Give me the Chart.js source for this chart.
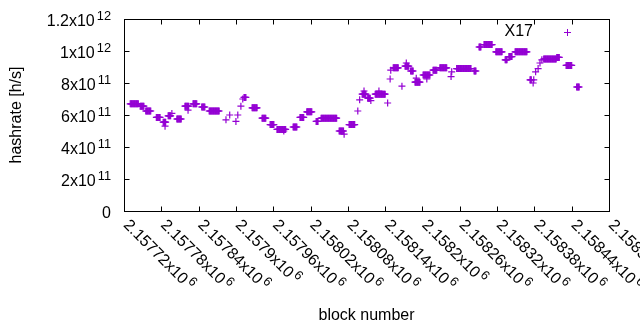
<!DOCTYPE html>
<html>
<head>
<meta charset="utf-8">
<script src="https://cdn.jsdelivr.net/npm/chart.js@4/dist/chart.umd.min.js"></script>
<style>
  html, body { margin: 0; padding: 0; background: #fff; }
  canvas { display: block; }
</style>
</head>
<body>
<canvas id="hashChart" width="640" height="330" style="width:640px;height:330px"></canvas>
<script>
const seriesName = "X17";
// runs of consecutive blocks sharing one hashrate estimate
const blockFrom = [2157730, 2157746, 2157755, 2157772, 2157783, 2157786, 2157791, 2157797, 2157805, 2157818,
  2157823, 2157831, 2157845, 2157857, 2157884, 2157890, 2157900, 2157903, 2157908, 2157911,
  2157913, 2157926, 2157942, 2157955, 2157966, 2157977, 2157992, 2158003, 2158014, 2158029,
  2158037, 2158066, 2158074, 2158082, 2158096, 2158099, 2158103, 2158106, 2158112, 2158117,
  2158124, 2158130, 2158144, 2158148, 2158149, 2158153, 2158167, 2158172, 2158174, 2158181,
  2158188, 2158190, 2158201, 2158207, 2158217, 2158228, 2158246, 2158247, 2158255, 2158283,
  2158291, 2158299, 2158318, 2158333, 2158339, 2158349, 2158373, 2158378, 2158379, 2158382,
  2158386, 2158389, 2158392, 2158395, 2158416, 2158431, 2158448];
const blockTo = [2157743, 2157752, 2157763, 2157778, 2157787, 2157786, 2157795, 2157797, 2157812, 2157824,
  2157823, 2157837, 2157850, 2157873, 2157884, 2157890, 2157900, 2157903, 2157908, 2157911,
  2157916, 2157934, 2157948, 2157961, 2157980, 2157977, 2157998, 2158009, 2158022, 2158032,
  2158062, 2158073, 2158074, 2158091, 2158096, 2158099, 2158109, 2158106, 2158116, 2158117,
  2158140, 2158130, 2158144, 2158148, 2158149, 2158161, 2158167, 2158178, 2158174, 2158185,
  2158196, 2158190, 2158212, 2158207, 2158223, 2158239, 2158246, 2158247, 2158278, 2158286,
  2158294, 2158312, 2158328, 2158336, 2158344, 2158368, 2158375, 2158378, 2158379, 2158382,
  2158386, 2158389, 2158392, 2158415, 2158420, 2158440, 2158452];
const hashrate = [6.7e11, 6.55e11, 6.25e11, 5.85e11, 5.55e11, 5.3e11, 5.95e11, 6.1e11, 5.75e11, 6.55e11,
  6.3e11, 6.7e11, 6.5e11, 6.25e11, 5.7e11, 6.0e11, 5.6e11, 6.0e11, 6.55e11, 7.0e11,
  7.1e11, 6.45e11, 5.8e11, 5.4e11, 5.1e11, 5.0e11, 5.25e11, 5.85e11, 6.2e11, 5.6e11,
  5.8e11, 5.0e11, 4.8e11, 5.4e11, 6.25e11, 6.95e11, 7.3e11, 7.5e11, 7.05e11, 6.9e11,
  7.3e11, 7.5e11, 6.75e11, 8.25e11, 8.8e11, 8.95e11, 7.8e11, 9.05e11, 9.25e11, 8.75e11,
  8.05e11, 8.3e11, 8.5e11, 8.25e11, 8.8e11, 8.95e11, 8.4e11, 8.7e11, 8.9e11, 8.75e11,
  10.25e11, 10.4e11, 9.95e11, 9.45e11, 9.65e11, 9.95e11, 8.2e11, 8.0e11, 8.2e11, 8.7e11,
  8.9e11, 9.25e11, 9.45e11, 9.5e11, 9.6e11, 9.1e11, 7.75e11];
const xTicks = [2157720, 2157780, 2157840, 2157900, 2157960, 2158020, 2158080,
  2158140, 2158200, 2158260, 2158320, 2158380, 2158440, 2158500];
const yTicks = [0, 2e11, 4e11, 6e11, 8e11, 1e12, 1.2e12];

const points = [];
blockFrom.forEach((b0, i) => {
  for (let b = b0; b <= blockTo[i]; b++) points.push({ x: b, y: hashrate[i] });
});

const FONT = '"Liberation Sans", Arial, sans-serif';
const SIZE = 16;
const purple = "#9400D3";

// "m x10^e" with gnuplot style superscript
function sciParts(v) {
  if (v === 0) return ["0", ""];
  const e = Math.floor(Math.log10(v) + 1e-9);
  const m = parseFloat((v / Math.pow(10, e)).toFixed(5));
  return [m + "x10", String(e)];
}

function drawSci(ctx, parts, x, y, align) {
  ctx.font = SIZE + "px " + FONT;
  const wm = ctx.measureText(parts[0]).width;
  ctx.font = (SIZE * 0.8) + "px " + FONT;
  const ws = parts[1] ? ctx.measureText(parts[1]).width + 2 : 0;
  const x0 = align === "right" ? x - wm - ws : x;
  ctx.textAlign = "left";
  ctx.textBaseline = "alphabetic";
  ctx.font = SIZE + "px " + FONT;
  ctx.fillText(parts[0], x0, y);
  if (parts[1]) {
    ctx.font = (SIZE * 0.8) + "px " + FONT;
    ctx.fillText(parts[1], x0 + wm + 2, y - 6);
  }
}

const gnuplotFrame = {
  id: "gnuplotFrame",
  afterDraw(chart) {
    const { ctx, chartArea: a, scales: { x, y } } = chart;
    const L = a.left + 0.5, R = a.right + 0.5, T = a.top + 0.5, B = a.bottom + 0.5;
    ctx.save();
    ctx.strokeStyle = "#000";
    ctx.fillStyle = "#000";
    ctx.lineWidth = 1;
    ctx.beginPath();
    xTicks.forEach(v => {
      const px = Math.round(x.getPixelForValue(v)) + 0.5;
      ctx.moveTo(px, B); ctx.lineTo(px, B - 5);
      ctx.moveTo(px, T); ctx.lineTo(px, T + 5);
    });
    yTicks.forEach(v => {
      const py = Math.round(y.getPixelForValue(v)) + 0.5;
      ctx.moveTo(L, py); ctx.lineTo(L + 5, py);
      ctx.moveTo(R, py); ctx.lineTo(R - 5, py);
    });
    ctx.stroke();
    ctx.strokeRect(L, T, R - L, B - T);

    // y tick labels
    yTicks.forEach(v => {
      const py = y.getPixelForValue(v);
      drawSci(ctx, sciParts(v), 111, py + 7, "right");
    });
    // x tick labels, turned 45 degrees clockwise
    xTicks.forEach(v => {
      const px = x.getPixelForValue(v);
      ctx.save();
      ctx.translate(px + 3, 221.5);
      ctx.rotate(Math.PI / 4);
      drawSci(ctx, sciParts(v), 0, 6, "left");
      ctx.restore();
    });

    // axis titles
    ctx.font = SIZE + "px " + FONT;
    ctx.textAlign = "center";
    ctx.textBaseline = "middle";
    ctx.fillText("block number", (a.left + a.right) / 2, 316);
    ctx.save();
    ctx.translate(17, (a.top + a.bottom) / 2);
    ctx.rotate(-Math.PI / 2);
    ctx.fillText("hashrate [h/s]", 0, 0);
    ctx.restore();

    // key
    ctx.textAlign = "right";
    ctx.fillText(seriesName, 533, 32);
    ctx.strokeStyle = purple;
    ctx.beginPath();
    ctx.moveTo(564, 32.5); ctx.lineTo(571, 32.5);
    ctx.moveTo(567.5, 29); ctx.lineTo(567.5, 36);
    ctx.stroke();
    ctx.restore();
  }
};

new Chart(document.getElementById("hashChart"), {
  type: "scatter",
  data: {
    datasets: [{
      label: seriesName,
      data: points,
      pointStyle: "cross",
      pointRadius: 3.5,
      borderColor: purple,
      backgroundColor: purple,
      borderWidth: 1.2
    }]
  },
  options: {
    responsive: false,
    animation: false,
    events: [],
    layout: { padding: { left: 124, right: 31, top: 19, bottom: 119 } },
    plugins: { legend: { display: false }, tooltip: { enabled: false } },
    scales: {
      x: { type: "linear", min: 2157720, max: 2158500, display: false },
      y: { type: "linear", min: 0, max: 1.2e12, display: false }
    }
  },
  plugins: [gnuplotFrame]
});
</script>
</body>
</html>
